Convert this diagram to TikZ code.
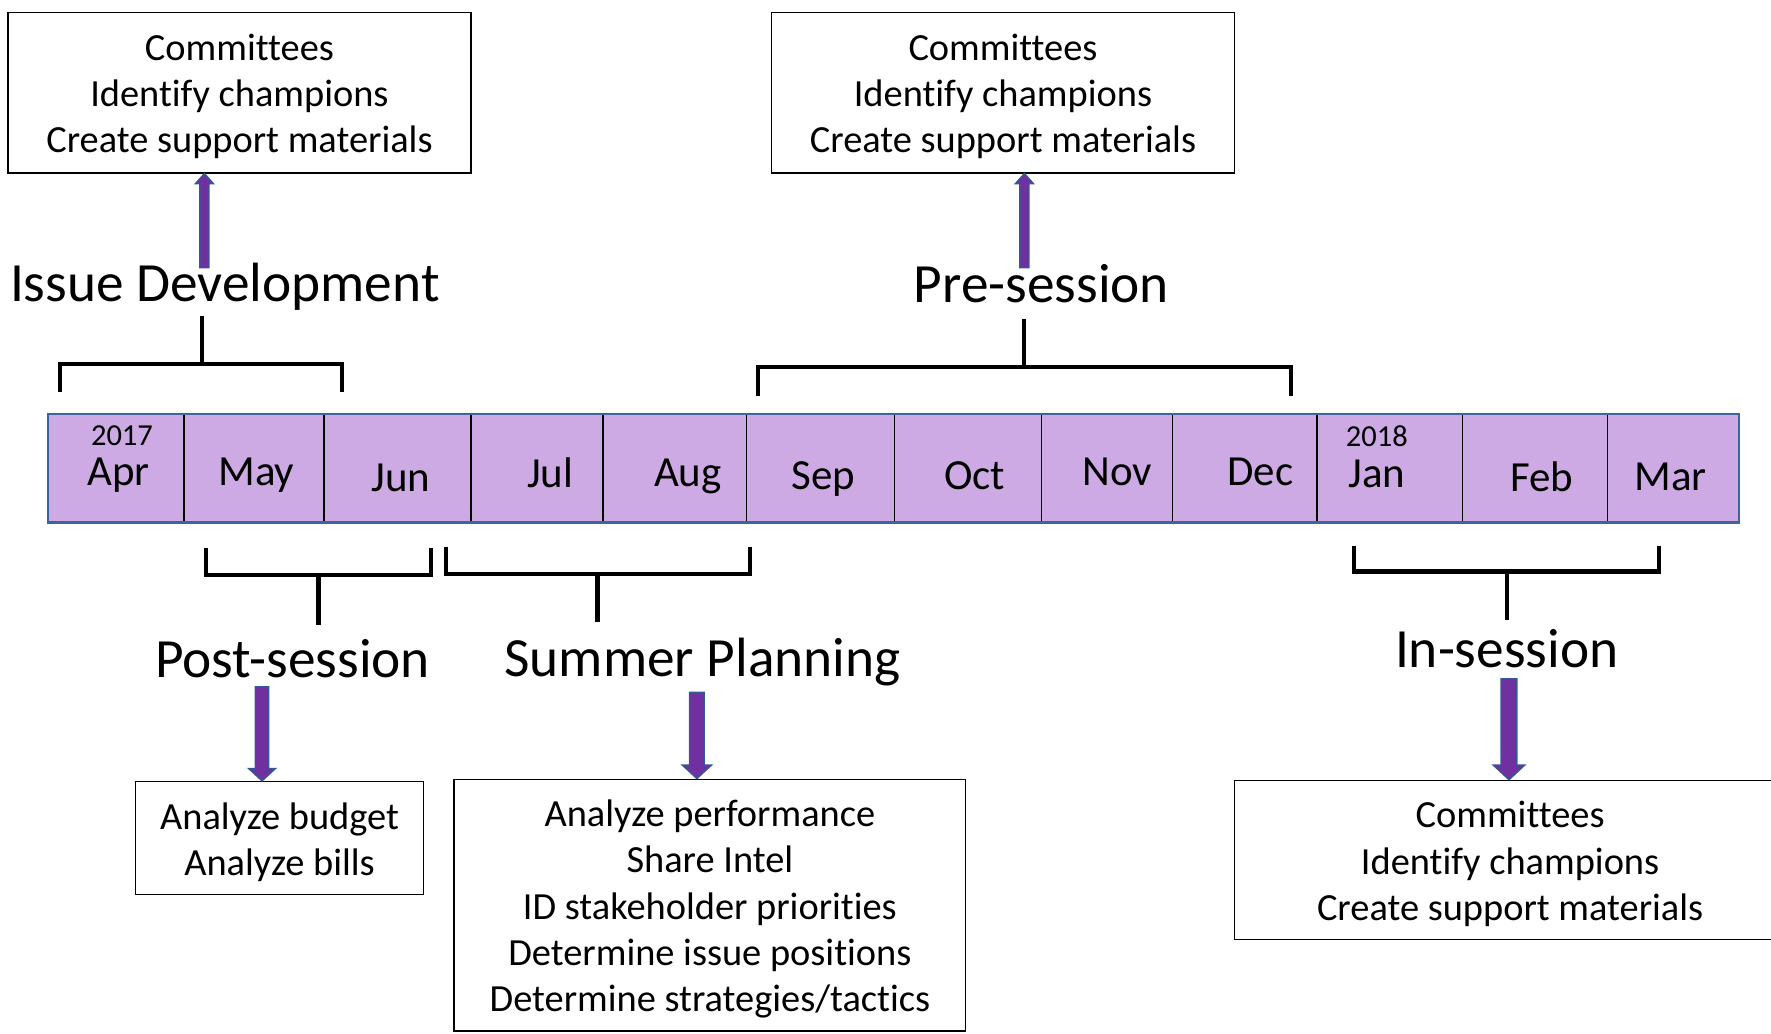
\documentclass[tikz,border=0pt]{standalone}
\usepackage{fontspec}
\setmainfont[Ligatures=NoCommon]{Carlito}
\usetikzlibrary{calc}
\definecolor{lav}{RGB}{205,170,227}
\definecolor{barblue}{RGB}{62,100,158}
\definecolor{arrpurple}{RGB}{112,48,160}
\definecolor{arrblue}{RGB}{52,88,150}
\newcommand\downblk[5]{%
  \draw[blk] let \p1=(#1), \p2=(#2) in
  (\x2-#3,\y1) -- (\x2-#3,\y2+#5) -- (\x2-#4,\y2+#5) -- (\x2,\y2) --
  (\x2+#4,\y2+#5) -- (\x2+#3,\y2+#5) -- (\x2+#3,\y1) -- cycle;}
\newcommand\upblk[5]{%
  \draw[blk] let \p1=(#1), \p2=(#2) in
  (\x2-#3,\y1) -- (\x2-#3,\y2-#5) -- (\x2-#4,\y2-#5) -- (\x2,\y2) --
  (\x2+#4,\y2-#5) -- (\x2+#3,\y2-#5) -- (\x2+#3,\y1) -- cycle;}
\tikzset{
  frame/.style={draw=black, line width=1.3pt, inner sep=0pt},
  boxtext/.style={align=center, font=\fontsize{34}{41}\selectfont,
    inner sep=0pt, yshift=-3.5pt},
  big/.style={font=\fontsize{49}{56}\selectfont, inner sep=0pt},
  mon/.style={font=\fontsize{38}{44}\selectfont, inner sep=0pt},
  yr/.style={font=\fontsize{27}{30}\selectfont, inner sep=0pt},
  cell/.style={draw=black, line width=1.3pt, fill=lav, minimum height=95pt, inner sep=0pt},
  brk/.style={line width=3.6pt, line join=miter},
  blk/.style={fill=arrpurple, draw=arrblue, line width=1.2pt, line join=miter},
}
\begin{document}
\begin{tikzpicture}[x=1pt,y=-1pt]
\useasboundingbox (0,0) rectangle (1568,915);
% boxes
\node[frame, minimum width=410pt, minimum height=142pt,
  label={[boxtext]center:{Committees\\Identify champions\\Create support materials}}] (tl) at (212,82) {};
\node[frame, minimum width=410pt, minimum height=142pt,
  label={[boxtext]center:{Committees\\Identify champions\\Create support materials}}] (tr) at (888,82) {};
\node[frame, minimum width=255pt, minimum height=100pt,
  label={[boxtext]center:{Analyze budget\\Analyze bills}}] (ab) at (247.5,742) {};
\node[frame, minimum width=453pt, minimum height=223pt,
  label={[boxtext]center:{Analyze performance\\Share Intel\\ID stakeholder priorities\\Determine issue positions\\Determine strategies/tactics}}] (sb) at (628.5,801.5) {};
\node[frame, minimum width=488pt, minimum height=141pt,
  label={[boxtext]center:{Committees\\Identify champions\\Create support materials}}] (ib) at (1337,761.5) {};
% phase labels
\node[big] (lid) at (199,254) {Issue Development};
\node[big] (lps) at (922,251) {Pre-session};
\node[big] (lpo) at (259,583) {Post-session};
\node[big] (lsp) at (622,586) {Summer Planning};
\node[big] (lin) at (1334,574) {In-session};
% month cells
\foreach \l/\r/\n in {43/163/apr,163/287/may,287/417/jun,417/534/jul,534/661/aug,661/792/sep,792/922/oct,922/1038/nov,1038/1166/dec,1166/1295/jan,1295/1423/feb,1423/1539/mar}
  \node[cell, minimum width={(\r-\l)*1pt}] (\n) at ({(\l+\r)/2},414.5) {};
\draw[barblue, line width=2pt] (apr.north west) rectangle (mar.south east);
% month labels
\node[yr] (y17) at (108,386) {2017};
\node[mon] (tapr) at (105,421) {Apr};
\node[mon] (tmay) at (227,421) {May};
\node[mon] (tjun) at (355,423) {Jun};
\node[mon] (tjul) at (487,419) {Jul};
\node[mon] (taug) at (609,422) {Aug};
\node[mon] (tsep) at (729,424) {Sep};
\node[mon] (toct) at (863,421) {Oct};
\node[mon] (tnov) at (989,418) {Nov};
\node[mon] (tdec) at (1116,418) {Dec};
\node[yr] (y18) at (1219,386) {2018};
\node[mon] (tjan) at (1219,420) {Jan};
\node[mon] (tfeb) at (1365,422) {Feb};
\node[mon] (tmar) at (1479,422) {Mar};
% brackets
\draw[brk] (53,347) -- (53,322) -- (303,322) -- (303,347);
\draw[brk] (179,322) -- (179,280);
\draw[brk] (671,351) -- (671,325) -- (1143,325) -- (1143,351);
\draw[brk] (907,325) -- (907,282);
\draw[brk] (182,485) -- (182,509) -- (382,509) -- (382,485);
\draw[brk] (282,509) -- (282,553);
\draw[brk] (395,484) -- (395,508) -- (664,508) -- (664,484);
\draw[brk] (529,508) -- (529,551);
\draw[brk] (1199,483) -- (1199,506) -- (1469,506) -- (1469,483);
\draw[brk] (1334,506) -- (1334,549);
% block arrows
\coordinate (a1) at (181,237);
\coordinate (a2) at (907,237);
\coordinate (a3) at (232,608);
\coordinate (a4) at (617,613);
\coordinate (a5) at (1336,601);
\upblk{a1}{a1 |- tl.south}{4pt}{8pt}{9pt}
\upblk{a2}{a2 |- tr.south}{4pt}{8pt}{9pt}
\downblk{a3}{a3 |- ab.north}{6pt}{12pt}{11pt}
\downblk{a4}{a4 |- sb.north}{6.5pt}{13pt}{12pt}
\downblk{a5}{a5 |- ib.north}{7pt}{14pt}{13pt}
\end{tikzpicture}
\end{document}
